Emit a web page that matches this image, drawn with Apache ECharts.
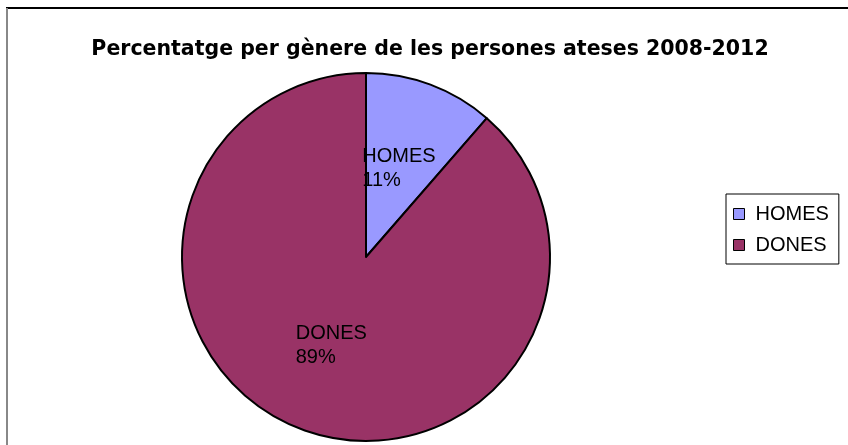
<!DOCTYPE html>
<html>
<head>
<meta charset="utf-8">
<script src="https://cdn.jsdelivr.net/npm/echarts@6/dist/echarts.min.js"></script>
<style>
  html, body { margin: 0; padding: 0; background: #fff; }
  #chart { width: 848px; height: 445px; }
</style>
</head>
<body>
<div id="chart"></div>
<script>
"use strict"

const categories = ["HOMES", "DONES"]
const values = [11.4, 88.6]
const colors = ["#9999FF", "#993366"]

const chart = echarts.init(document.getElementById("chart"), null, { renderer: "canvas" })

const option = {
  animation: false,
  title: {
    text: "Percentatge per gènere de les persones ateses 2008-2012",
    left: 425,
    top: 34,
    textAlign: "center",
    textStyle: {
      fontFamily: "DejaVu Sans",
      fontWeight: "bold",
      fontSize: 20.5,
      color: "#000",
    },
  },
  legend: {
    orient: "vertical",
    left: 726,
    top: 194,
    padding: [10, 10, 9, 7],
    borderColor: "#000",
    borderWidth: 1,
    itemWidth: 11,
    itemHeight: 11,
    itemGap: 11,
    icon: "rect",
    itemStyle: { borderColor: "#000", borderWidth: 1 },
    data: categories,
    textStyle: {
      fontFamily: "Liberation Sans",
      fontSize: 20,
      color: "#000",
      padding: [0, 0, 0, 6],
    },
  },
  graphic: [
    { type: "line", shape: { x1: 6, y1: 8, x2: 848, y2: 8 }, style: { stroke: "#000", lineWidth: 2 } },
    { type: "line", shape: { x1: 7, y1: 8, x2: 7, y2: 445 }, style: { stroke: "#888", lineWidth: 2 } },
  ],
  series: [
    {
      type: "pie",
      center: [366, 257],
      radius: [0, 184],
      startAngle: 90,
      clockwise: true,
      percentPrecision: 0,
      itemStyle: { borderColor: "#000", borderWidth: 2 },
      label: {
        position: "inside",
        formatter: "{t|{b}}\n{t|{d}%}",
        color: "#000",
        rich: {
          t: {
            width: 74,
            align: "left",
            fontFamily: "Liberation Sans",
            fontSize: 20,
            lineHeight: 24,
            color: "#000",
          },
        },
      },
      labelLine: { show: false },
      emphasis: { disabled: true },
      data: categories.map((c, i) => ({ name: c, value: values[i], itemStyle: { color: colors[i] } })),
    },
  ],
}

chart.setOption(option)
</script>
</body>
</html>
